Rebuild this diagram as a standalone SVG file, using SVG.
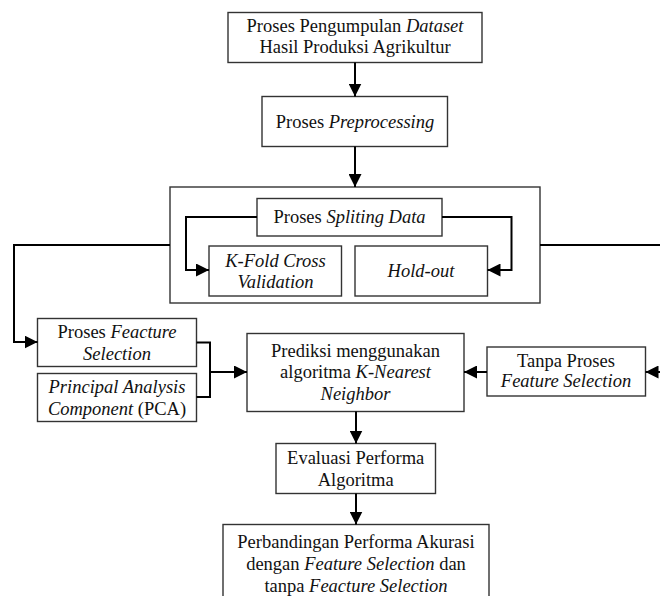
<svg xmlns="http://www.w3.org/2000/svg" width="660" height="596" viewBox="0 0 660 596">
<defs>
<style>
.box{fill:#fff;stroke:#333;stroke-width:1.4}
.con{fill:none;stroke:#000;stroke-width:2}
text{font-family:"Liberation Serif","Times New Roman",serif;font-size:18.5px;fill:#111;text-anchor:middle}
.i{font-style:italic}
</style>
<marker id="ah" markerUnits="userSpaceOnUse" markerWidth="13" markerHeight="13" refX="13" refY="6.5" orient="auto">
<path d="M0,0 L13,6.5 L0,13 z" fill="#000"/>
</marker>
</defs>
<rect width="660" height="596" fill="#fff"/>

<g id="outer">
<rect class="box" x="170" y="187" width="370" height="116"/>
</g>

<g id="n1">
<rect class="box" x="228" y="12.5" width="254" height="50"/>
<text x="355" y="31.5">Proses Pengumpulan <tspan class="i">Dataset</tspan></text>
<text x="355" y="53">Hasil Produksi Agrikultur</text>
</g>

<g id="n2">
<rect class="box" x="262" y="96.5" width="185.5" height="50"/>
<text x="355" y="127.5">Proses <tspan class="i">Preprocessing</tspan></text>
</g>

<g id="n3">
<rect class="box" x="257" y="198.5" width="185" height="37.5"/>
<text x="349.5" y="223">Proses <tspan class="i">Spliting Data</tspan></text>
</g>

<g id="n4">
<rect class="box" x="209" y="246" width="132.5" height="50"/>
<text class="i" x="275.5" y="267">K-Fold Cross</text>
<text class="i" x="275.5" y="288">Validation</text>
</g>

<g id="n5">
<rect class="box" x="355" y="246" width="132.5" height="50"/>
<text class="i" x="421" y="277">Hold-out</text>
</g>

<g id="n6">
<rect class="box" x="37.5" y="318.5" width="159" height="48"/>
<text x="117" y="338">Proses <tspan class="i">Feacture</tspan></text>
<text class="i" x="117" y="360">Selection</text>
</g>

<g id="n7">
<rect class="box" x="37.5" y="373.5" width="159" height="48"/>
<text class="i" x="117" y="393">Principal Analysis</text>
<text x="117" y="415"><tspan class="i">Component</tspan> (PCA)</text>
</g>

<g id="n8">
<rect class="box" x="247" y="333.5" width="217" height="78"/>
<text x="355.5" y="356.5">Prediksi menggunakan</text>
<text x="355.5" y="378">algoritma <tspan class="i">K-Nearest</tspan></text>
<text class="i" x="355.5" y="399.5">Neighbor</text>
</g>

<g id="n9">
<rect class="box" x="487" y="347" width="158.5" height="49"/>
<text x="566" y="366.5">Tanpa Proses</text>
<text class="i" x="566" y="387">Feature Selection</text>
</g>

<g id="n10">
<rect class="box" x="276" y="443.5" width="159.5" height="50"/>
<text x="355.7" y="464">Evaluasi Performa</text>
<text x="355.7" y="486">Algoritma</text>
</g>

<g id="n11">
<rect class="box" x="223" y="524.5" width="266" height="80"/>
<text x="356" y="548">Perbandingan Performa Akurasi</text>
<text x="356" y="570">dengan <tspan class="i">Feature Selection</tspan> dan</text>
<text x="356" y="591.5">tanpa <tspan class="i">Feacture Selection</tspan></text>
</g>

<g id="connectors">
<path class="con" d="M355,62.5 V96.5" marker-end="url(#ah)"/>
<path class="con" d="M355,146.5 V187" marker-end="url(#ah)"/>
<path class="con" d="M257,217 H186 V270 H209" marker-end="url(#ah)"/>
<path class="con" d="M442,217 H511.5 V270 H487.5" marker-end="url(#ah)"/>
<path class="con" d="M170,245 H14 V342 H37.5" marker-end="url(#ah)"/>
<path class="con" d="M540,245 H668 V372 H645.5" marker-end="url(#ah)"/>
<path class="con" d="M196.5,342.5 H210 V397 H196.5"/>
<path class="con" d="M210,372 H247" marker-end="url(#ah)"/>
<path class="con" d="M487,372 H464" marker-end="url(#ah)"/>
<path class="con" d="M356,411.5 V443.5" marker-end="url(#ah)"/>
<path class="con" d="M356,493.5 V524.5" marker-end="url(#ah)"/>
</g>
</svg>
